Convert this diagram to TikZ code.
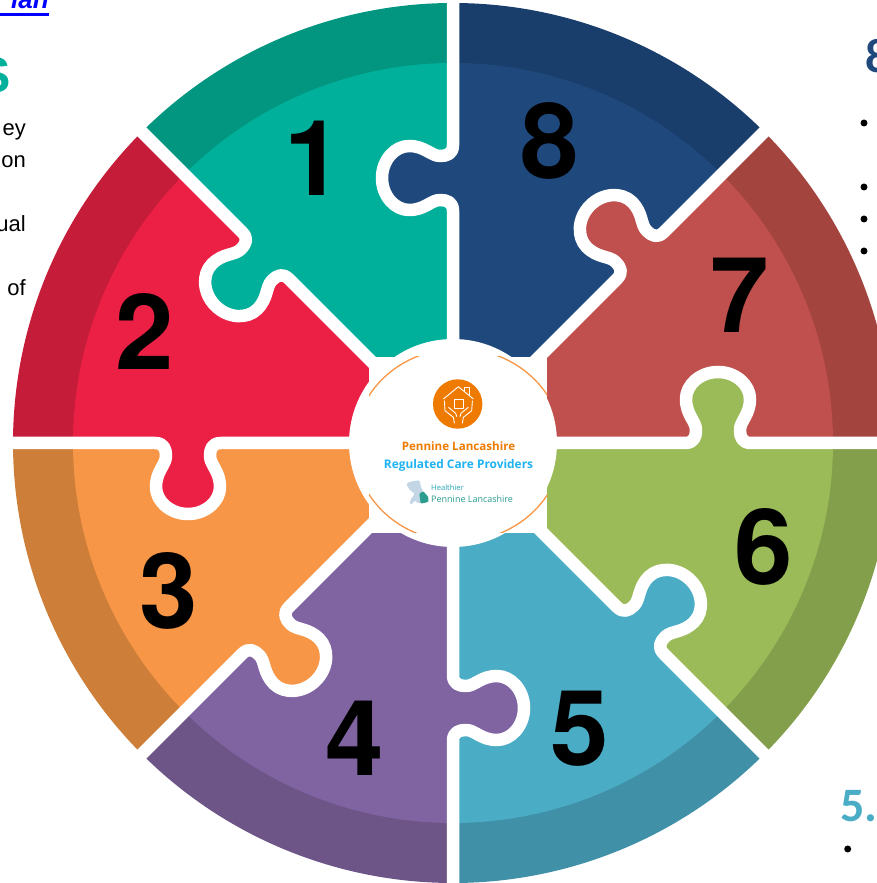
\documentclass[tikz,border=0pt]{standalone}
\usepackage{fontspec}
\setmainfont{Liberation Sans}
\newfontfamily\logofont{Open Sans}
\newfontfamily\headfont{Carlito}
\newfontfamily\digitfont{TeX Gyre Heros}

\definecolor{tealA}{HTML}{00B09B}
\definecolor{tealB}{HTML}{02957F}
\definecolor{redA}{HTML}{EC2044}
\definecolor{redB}{HTML}{C51C3A}
\definecolor{orangeA}{HTML}{F79646}
\definecolor{orangeB}{HTML}{CD7F3A}
\definecolor{purpleA}{HTML}{8064A2}
\definecolor{purpleB}{HTML}{6E5588}
\definecolor{aquaA}{HTML}{4BACC6}
\definecolor{aquaB}{HTML}{4090A8}
\definecolor{greenA}{HTML}{9BBB59}
\definecolor{greenB}{HTML}{839F4B}
\definecolor{brickA}{HTML}{C0504D}
\definecolor{brickB}{HTML}{A3443F}
\definecolor{navyA}{HTML}{1F497D}
\definecolor{navyB}{HTML}{1A3E6B}
\definecolor{logoorange}{HTML}{EF7A00}
\definecolor{logoblue}{HTML}{1FB2F0}
\definecolor{logoteal}{HTML}{2A9D8F}
\definecolor{logomap}{HTML}{C3D6E6}

\tikzset{
  gapline/.style={white,line width=12.5pt,line join=round},
  number/.style={font=\fontsize{105}{105}\digitfont\bfseries,inner sep=0pt},
  sidetext/.style={font=\fontsize{22}{22}\selectfont,anchor=base east,inner sep=0pt},
  heading/.style={font=\fontsize{48}{48}\headfont\bfseries,anchor=base west,inner sep=0pt},
  iconline/.style={white,line width=0.9pt,line join=round},
  dot/.style={black,radius=3.5}
}

\begin{document}
\begin{tikzpicture}[x=1pt,y=1pt]
\useasboundingbox (0,0) rectangle (877,883);
\clip (0,0) rectangle (877,883);

% wheel, origin at its centre
\begin{scope}[shift={(453,440)}]
\foreach \k/\lite/\dark in {0/tealA/tealB,1/redA/redB,2/orangeA/orangeB,3/purpleA/purpleB,
                            4/aquaA/aquaB,5/greenA/greenB,6/brickA/brickB,7/navyA/navyB} {
  \begin{scope}[rotate=45*\k]
  \fill[\dark] (0,0) -- (90:440) arc[start angle=90,end angle=135,radius=440] -- cycle;
  \fill[\lite] (0,0) -- (90:380) arc[start angle=90,end angle=135,radius=380] -- cycle;
  \end{scope}
}
% tabs and gaps
\foreach \k/\owner in {0/navyA,1/tealA,2/redA,3/orangeA,4/purpleA,5/aquaA,6/greenA,7/brickA} {
  \begin{scope}[rotate=45*\k]
  \fill[\owner] (0,298) .. controls (0,289) and (-6,287) .. (-13,287)
    .. controls (-22,287) and (-28,297) .. (-44,297)
    .. controls (-58,297) and (-71,283) .. (-71,265)
    .. controls (-71,247) and (-58,233) .. (-44,233)
    .. controls (-28,233) and (-22,243) .. (-13,243)
    .. controls (-6,243) and (0,241) .. (0,232) -- (10,232) -- (10,298) -- cycle;
  \draw[gapline] (0,0) -- (0,232)
    .. controls (0,241) and (-6,243) .. (-13,243)
    .. controls (-22,243) and (-28,233) .. (-44,233)
    .. controls (-58,233) and (-71,247) .. (-71,265)
    .. controls (-71,283) and (-58,297) .. (-44,297)
    .. controls (-28,297) and (-22,287) .. (-13,287)
    .. controls (-6,287) and (0,289) .. (0,298) -- (0,450);
  \end{scope}
}
\fill[white] (0,0) circle[radius=104];
\end{scope}

% logo panel
\fill[white] (369,350) rectangle (547,526);
\begin{scope}
\clip (369,350) rectangle (547,526);
\draw[orangeA,line width=1.3pt] (458.3,438) ellipse[x radius=104,y radius=96.4];
\end{scope}

\begin{scope}[shift={(457.7,479)}]
\fill[logoorange] (0,0) circle[radius=24.7];
\draw[iconline] (-14.3,5) -- (0.7,17.3) -- (15.7,5);
\draw[iconline] (6.7,12.7) -- (6.7,16.7) -- (11.3,16.7) -- (11.3,8.3);
\draw[iconline] (-3.3,5) rectangle (5.7,-4);
\draw[iconline] (-13.3,3.3) -- (-12.7,-6.7) -- (-4.3,-13.3) -- (-3.3,-19.3);
\draw[iconline] (-9.3,-3.3) -- (-2,-9.3) -- (-1,-12.7);
\draw[iconline] (14.7,3.3) -- (14,-6.7) -- (5.7,-13.3) -- (4.7,-19.3);
\draw[iconline] (10.7,-3.3) -- (3.3,-9.3) -- (2.3,-12.7);
\end{scope}

\node[text=logoorange,font=\fontsize{11.6}{11.6}\logofont\bfseries,inner sep=0pt] (care1) at (458.5,437) {Pennine Lancashire};
\node[text=logoblue,font=\fontsize{11.9}{11.9}\logofont\bfseries,inner sep=0pt] (care2) at (458.5,418) {Regulated Care Providers};

\fill[logomap,rounded corners=1.5pt] (406,399.3) -- (411.7,401.7) -- (420,402.7) -- (420.7,396) -- (424,390.3)
  -- (428.3,382.7) -- (418.3,379.3) -- (415,382.7) -- (410.7,377.7) -- (410,382.7)
  -- (415,389.3) -- (410,392.7) -- cycle;
\fill[logoteal,rounded corners=1pt] (419.3,389.3) -- (423.3,391.7) -- (428.3,386) -- (428.3,381) -- (420.7,379.3) -- cycle;
\node[text=logoteal!60!logoblue,font=\fontsize{7.6}{7.6}\logofont,anchor=base west,inner sep=0pt] (healthier) at (431,392) {Healthier};
\node[text=logoteal,font=\fontsize{9}{9}\logofont,anchor=base west,inner sep=0pt] (pennine) at (431,380.5) {Pennine Lancashire};

% numbers
\node[number] (n1) at (314,725) {1};
\node[number] (n8) at (550,742) {8};
\node[number] (n7) at (740,588) {7};
\node[number] (n2) at (144.5,552) {2};
\node[number] (n6) at (763.5,336) {6};
\node[number] (n3) at (169,292.5) {3};
\node[number] (n5) at (579.5,154) {5};
\node[number] (n4) at (354.5,145) {4};

% cut-off page text round the wheel
\node[text=blue,font=\fontsize{26}{26}\selectfont\bfseries\itshape,anchor=base east,inner sep=0pt] (link) at (49,874) {lan};
\draw[blue,line width=3pt] (0,868.5) -- (49,868.5);
\node[text=tealA,font=\fontsize{50}{50}\selectfont\bfseries,anchor=base east,inner sep=0pt] (head1) at (11,790) {S};
\node[sidetext] (t1) at (26,747) {ey};
\node[sidetext] (t2) at (26,715) {on};
\node[sidetext] (t3) at (26,651) {ual};
\node[sidetext] (t4) at (26,587) {of};
\node[heading,text=navyA] (head8) at (865,810) {8};
\node[heading,text=aquaA] (head5) at (840,61) {5.};

\fill[dot] (864,760) circle;
\fill[dot] (864,696) circle;
\fill[dot] (864,664) circle;
\fill[dot] (864,632) circle;
\fill[dot] (847.7,34) circle;
\end{tikzpicture}
\end{document}
